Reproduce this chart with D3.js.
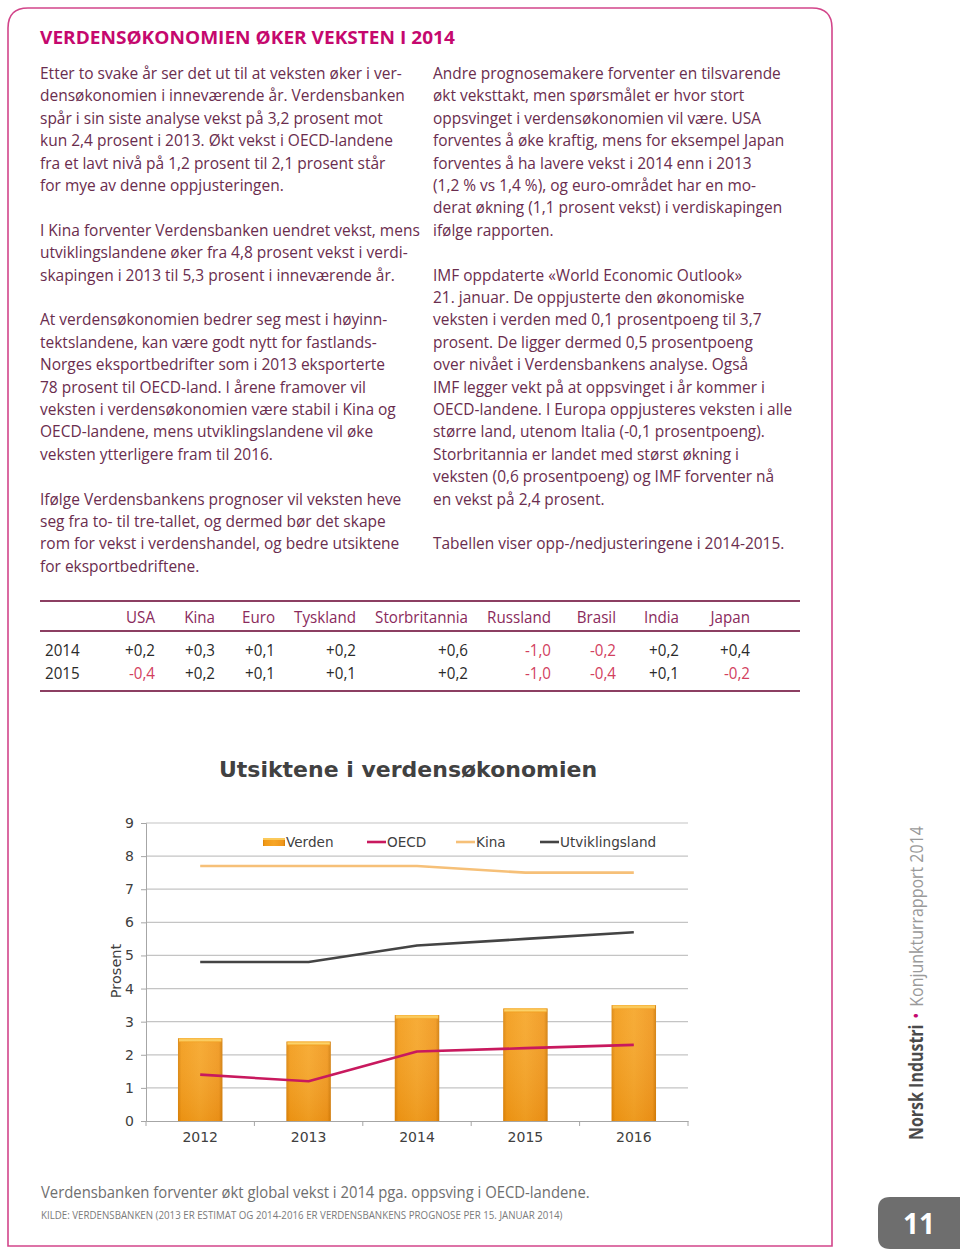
<!DOCTYPE html>
<html>
<head>
<meta charset="utf-8">
<script src="https://cdn.jsdelivr.net/npm/d3@7"></script>
<style>
  html, body { margin: 0; padding: 0; background: #ffffff; }
  svg { display: block; }
</style>
</head>
<body>
<svg id="page" width="960" height="1249"></svg>
<script>
// ---------------- DATA ----------------
const years = ["2012", "2013", "2014", "2015", "2016"];
const verden = [2.5, 2.4, 3.2, 3.4, 3.5];
const oecd = [1.4, 1.2, 2.1, 2.2, 2.3];
const kina = [7.7, 7.7, 7.7, 7.5, 7.5];
const utviklingsland = [4.8, 4.8, 5.3, 5.5, 5.7];
const yTicks = [0, 1, 2, 3, 4, 5, 6, 7, 8, 9];
const legendLabels = ["Verden", "OECD", "Kina", "Utviklingsland"];

const tableCountries = ["USA", "Kina", "Euro", "Tyskland", "Storbritannia", "Russland", "Brasil", "India", "Japan"];
const tableYears = ["2014", "2015"];
const table2014 = ["+0,2", "+0,3", "+0,1", "+0,2", "+0,6", "-1,0", "-0,2", "+0,2", "+0,4"];
const table2015 = ["-0,4", "+0,2", "+0,1", "+0,1", "+0,2", "-1,0", "-0,4", "+0,1", "-0,2"];

const pageTitle = "VERDENSØKONOMIEN ØKER VEKSTEN I 2014";
const leftColumn = [
  "Etter to svake år ser det ut til at veksten øker i ver-",
  "densøkonomien i inneværende år. Verdensbanken",
  "spår i sin siste analyse vekst på 3,2 prosent mot",
  "kun 2,4 prosent i 2013. Økt vekst i OECD-landene",
  "fra et lavt nivå på 1,2 prosent til 2,1 prosent står",
  "for mye av denne oppjusteringen.",
  "",
  "I Kina forventer Verdensbanken uendret vekst, mens",
  "utviklingslandene øker fra 4,8 prosent vekst i verdi-",
  "skapingen i 2013 til 5,3 prosent i inneværende år.",
  "",
  "At verdensøkonomien bedrer seg mest i høyinn-",
  "tektslandene, kan være godt nytt for fastlands-",
  "Norges eksportbedrifter som i 2013 eksporterte",
  "78 prosent til OECD-land. I årene framover vil",
  "veksten i verdensøkonomien være stabil i Kina og",
  "OECD-landene, mens utviklingslandene vil øke",
  "veksten ytterligere fram til 2016.",
  "",
  "Ifølge Verdensbankens prognoser vil veksten heve",
  "seg fra to- til tre-tallet, og dermed bør det skape",
  "rom for vekst i verdenshandel, og bedre utsiktene",
  "for eksportbedriftene."
];
const rightColumn = [
  "Andre prognosemakere forventer en tilsvarende",
  "økt veksttakt, men spørsmålet er hvor stort",
  "oppsvinget i verdensøkonomien vil være. USA",
  "forventes å øke kraftig, mens for eksempel Japan",
  "forventes å ha lavere vekst i 2014 enn i 2013",
  "(1,2 % vs 1,4 %), og euro-området har en mo-",
  "derat økning (1,1 prosent vekst) i verdiskapingen",
  "ifølge rapporten.",
  "",
  "IMF oppdaterte «World Economic Outlook»",
  "21. januar. De oppjusterte den økonomiske",
  "veksten i verden med 0,1 prosentpoeng til 3,7",
  "prosent. De ligger dermed 0,5 prosentpoeng",
  "over nivået i Verdensbankens analyse. Også",
  "IMF legger vekt på at oppsvinget i år kommer i",
  "OECD-landene. I Europa oppjusteres veksten i alle",
  "større land, utenom Italia (-0,1 prosentpoeng).",
  "Storbritannia er landet med størst økning i",
  "veksten (0,6 prosentpoeng) og IMF forventer nå",
  "en vekst på 2,4 prosent.",
  "",
  "Tabellen viser opp-/nedjusteringene i 2014-2015."
];
const chartTitle = "Utsiktene i verdensøkonomien";
const yAxisLabel = "Prosent";
const caption = "Verdensbanken forventer økt global vekst i 2014 pga. oppsving i OECD-landene.";
const source = "KILDE: VERDENSBANKEN (2013 ER ESTIMAT OG 2014-2016 ER VERDENSBANKENS PROGNOSE PER 15. JANUAR 2014)";
const sideBold = "Norsk Industri";
const sideLight = "Konjunkturrapport 2014";
const pageNumber = "11";

// ---------------- STYLE ----------------
const bodyFont = "'Open Sans', 'Noto Sans', sans-serif";
const chartFont = "'DejaVu Sans', Verdana, sans-serif";
const bodyColor = "#6a2d4e";
const magenta = "#c5086e";
const frameColor = "#d2458a";

const svg = d3.select("#page");

// Frame
svg.append("path")
  .attr("d", "M8,1246 L8,28 Q8,8 28,8 L812,8 Q832,8 832,28 L832,1246 Z")
  .attr("fill", "none").attr("stroke", frameColor).attr("stroke-width", 1.6);

// Helper: horizontally compress a group so its reference line matches a width
function fitGroup(g, x, refNode, targetWidth) {
  const w = refNode.getComputedTextLength();
  const k = targetWidth / w;
  g.attr("transform", `translate(${x},0) scale(${k},1)`);
}

// Page title
const titleG = svg.append("g");
const titleT = titleG.append("text")
  .attr("x", 0).attr("y", 44)
  .attr("font-family", bodyFont).attr("font-weight", 700).attr("font-size", 17.5)
  .attr("fill", magenta).text(pageTitle);
fitGroup(titleG, 40, titleT.node(), 415);

// Columns
const lineH = 22.4;
function column(lines, x, refIdx, refWidth) {
  const g = svg.append("g");
  const t = g.selectAll("text").data(lines).join("text")
    .attr("x", 0)
    .attr("y", (d, i) => 79 + i * lineH)
    .attr("font-family", bodyFont).attr("font-size", 16.5)
    .attr("fill", bodyColor).text(d => d);
  fitGroup(g, x, t.nodes()[refIdx], refWidth);
}
column(leftColumn, 40, 0, 362);
column(rightColumn, 433, 0, 348);

// ---------------- TABLE ----------------
const tableRight = [155, 215, 275, 356, 468, 551, 616, 679, 750];
const tableLine = "#8c3f62";
[601, 631, 691].forEach(y => {
  svg.append("line").attr("x1", 40).attr("x2", 800).attr("y1", y).attr("y2", y)
    .attr("stroke", tableLine).attr("stroke-width", 2);
});
const tableFontSize = 17;
const probe = svg.append("text").attr("font-family", bodyFont).attr("font-size", tableFontSize).text("Storbritannia");
const tk = 93 / probe.node().getComputedTextLength();
probe.remove();

function tableText(txt, xRight, y, color, anchor) {
  const g = svg.append("g").attr("transform", `translate(${xRight},${y}) scale(${tk},1)`);
  g.append("text").attr("x", 0).attr("y", 0)
    .attr("text-anchor", anchor || "end")
    .attr("font-family", bodyFont).attr("font-size", tableFontSize)
    .attr("fill", color).text(txt);
}
tableCountries.forEach((c, i) => tableText(c, tableRight[i], 623, "#8a2a5c"));
const rows = [table2014, table2015];
tableYears.forEach((yr, r) => {
  const y = 656 + r * 23;
  tableText(yr, 45, y, "#2a2a2a", "start");
  rows[r].forEach((v, i) => tableText(v, tableRight[i], y, v.startsWith("-") ? "#d2405e" : "#2a2a2a"));
});

// ---------------- CHART ----------------
svg.append("text")
  .attr("x", 408).attr("y", 777)
  .attr("text-anchor", "middle")
  .attr("font-family", chartFont).attr("font-weight", "bold").attr("font-size", 22)
  .attr("fill", "#414141").text(chartTitle);

const x = d3.scaleBand().domain(years).range([146, 688]).paddingInner(0.59).paddingOuter(0.295);
const y = d3.scaleLinear().domain([0, 9]).range([1121, 823]);

const chart = svg.append("g");

// gridlines
chart.append("g").selectAll("line").data(yTicks.filter(d => d > 0)).join("line")
  .attr("x1", 146).attr("x2", 688)
  .attr("y1", d => y(d)).attr("y2", d => y(d))
  .attr("stroke", "#c4c4c4").attr("stroke-width", 1.2);

// y axis
const yAxis = chart.append("g").attr("transform", "translate(146,0)")
  .call(d3.axisLeft(y).tickValues(yTicks).tickSize(5).tickPadding(7).tickFormat(d3.format("d")));
yAxis.select(".domain").attr("stroke", "#a6a6a6");
yAxis.selectAll(".tick line").attr("stroke", "#a6a6a6");
yAxis.selectAll("text").attr("font-family", chartFont).attr("font-size", 14).attr("fill", "#404040");

// x axis
const xAxis = chart.append("g").attr("transform", "translate(0,1121)")
  .call(d3.axisBottom(x).tickSize(0).tickPadding(11));
xAxis.select(".domain").attr("stroke", "#a6a6a6");
xAxis.selectAll("text").attr("font-family", chartFont).attr("font-size", 14).attr("fill", "#404040");
const bounds = years.map(d => x(d) - x.step() * x.paddingInner() / 2).concat([688]);
chart.append("g").selectAll("line").data(bounds).join("line")
  .attr("x1", d => d).attr("x2", d => d).attr("y1", 1121).attr("y2", 1126)
  .attr("stroke", "#a6a6a6");

// y label
svg.append("text")
  .attr("transform", "translate(121,971) rotate(-90)")
  .attr("text-anchor", "middle")
  .attr("font-family", chartFont).attr("font-size", 14.5).attr("fill", "#404040")
  .text(yAxisLabel);

// bar gradients
const defs = svg.append("defs");
const gH = defs.append("linearGradient").attr("id", "barH").attr("x1", "0").attr("x2", "1").attr("y1", "0").attr("y2", "0");
gH.append("stop").attr("offset", "0").attr("stop-color", "#d98208");
gH.append("stop").attr("offset", "0.08").attr("stop-color", "#f29a16");
gH.append("stop").attr("offset", "0.5").attr("stop-color", "#f6a526");
gH.append("stop").attr("offset", "0.92").attr("stop-color", "#f0961a");
gH.append("stop").attr("offset", "1").attr("stop-color", "#cf7a06");
const gV = defs.append("linearGradient").attr("id", "barV").attr("x1", "0").attr("x2", "0").attr("y1", "0").attr("y2", "1");
gV.append("stop").attr("offset", "0").attr("stop-color", "#ffffff").attr("stop-opacity", 0.08);
gV.append("stop").attr("offset", "1").attr("stop-color", "#c86a00").attr("stop-opacity", 0.18);
const gTop = defs.append("linearGradient").attr("id", "barTop").attr("x1", "0").attr("x2", "0").attr("y1", "0").attr("y2", "1");
gTop.append("stop").attr("offset", "0").attr("stop-color", "#f7b43a");
gTop.append("stop").attr("offset", "0.5").attr("stop-color", "#fcd36a");
gTop.append("stop").attr("offset", "1").attr("stop-color", "#f2a020");

const barData = years.map((yr, i) => ({ yr, v: verden[i] }));
chart.append("g").selectAll("rect").data(barData).join("rect")
  .attr("x", d => x(d.yr)).attr("width", x.bandwidth())
  .attr("y", d => y(d.v)).attr("height", d => y(0) - y(d.v))
  .attr("fill", "url(#barH)");
chart.append("g").selectAll("rect").data(barData).join("rect")
  .attr("x", d => x(d.yr)).attr("width", x.bandwidth())
  .attr("y", d => y(d.v)).attr("height", d => y(0) - y(d.v))
  .attr("fill", "url(#barV)");
chart.append("g").selectAll("rect").data(barData).join("rect")
  .attr("x", d => x(d.yr) + 1).attr("width", x.bandwidth() - 2)
  .attr("y", d => y(d.v)).attr("height", 4)
  .attr("fill", "url(#barTop)");

// lines
const seriesDefs = [
  { name: "OECD", values: oecd, color: "#c8195e" },
  { name: "Kina", values: kina, color: "#f6c078" },
  { name: "Utviklingsland", values: utviklingsland, color: "#444444" }
];
const lineGen = d3.line().x((d, i) => x(years[i]) + x.bandwidth() / 2).y(d => y(d));
seriesDefs.forEach(s => {
  chart.append("path").datum(s.values)
    .attr("d", lineGen).attr("fill", "none")
    .attr("stroke", s.color).attr("stroke-width", 2.6)
    .attr("stroke-linejoin", "round").attr("stroke-linecap", "butt");
});

// legend
const legend = chart.append("g");
const legX = [263, 367, 456, 540];
const legY = 842;
legend.append("rect").attr("x", legX[0]).attr("y", legY - 4).attr("width", 22).attr("height", 8).attr("fill", "url(#barH)");
legend.append("rect").attr("x", legX[0]).attr("y", legY - 4).attr("width", 22).attr("height", 2).attr("fill", "#fbc95a");
seriesDefs.forEach((s, i) => {
  legend.append("line").attr("x1", legX[i + 1]).attr("x2", legX[i + 1] + 19)
    .attr("y1", legY).attr("y2", legY).attr("stroke", s.color).attr("stroke-width", 2.6);
});
legend.selectAll("text").data(legendLabels).join("text")
  .attr("x", (d, i) => legX[i] + (i === 0 ? 23 : 20))
  .attr("y", legY + 5)
  .attr("font-family", chartFont).attr("font-size", 13.6).attr("fill", "#404040")
  .text(d => d);

// ---------------- FOOTER ----------------
const capG = svg.append("g");
const capT = capG.append("text").attr("x", 0).attr("y", 1198)
  .attr("font-family", bodyFont).attr("font-size", 16).attr("fill", "#6f6f6f").text(caption);
fitGroup(capG, 41, capT.node(), 549);
const srcG = svg.append("g");
const srcT = srcG.append("text").attr("x", 0).attr("y", 1219)
  .attr("font-family", bodyFont).attr("font-size", 10).attr("fill", "#7a7a7a").text(source);
fitGroup(srcG, 41, srcT.node(), 522);

// ---------------- SIDEBAR ----------------
const sideG = svg.append("g");
const side = sideG.append("text")
  .attr("x", 0).attr("y", 0)
  .attr("font-family", bodyFont).attr("font-size", 19);
side.append("tspan").attr("font-weight", 700).attr("fill", "#4a4a4a").text(sideBold);
side.append("tspan").attr("fill", "#c5086e").attr("dx", 7).text("•");
side.append("tspan").attr("fill", "#9a9a9a").attr("dx", 7).text(sideLight);
const sideLen = side.node().getComputedTextLength() + 14;
const sk = 314 / sideLen;
sideG.attr("transform", `translate(923,1140) rotate(-90) scale(${sk},1)`);

// page number tab
svg.append("path")
  .attr("d", "M970,1197 L890,1197 Q878,1197 878,1209 L878,1237 Q878,1249 890,1249 L970,1249 Z")
  .attr("fill", "#6e6e6e");
svg.append("text").attr("x", 919).attr("y", 1234)
  .attr("text-anchor", "middle")
  .attr("font-family", bodyFont).attr("font-weight", 700).attr("font-size", 28)
  .attr("fill", "#ffffff").text(pageNumber);
</script>
</body>
</html>
